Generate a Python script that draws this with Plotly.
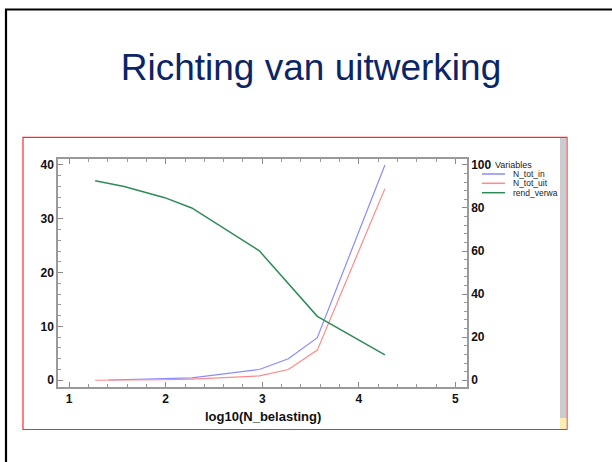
import plotly.graph_objects as go

# log10 of the load and the three monitored variables
log_load = [1.27, 1.41, 1.57, 1.99, 2.27, 2.97, 3.27, 3.57, 4.27]
n_tot_in = [None, 0.05, 0.1, 0.25, 0.45, 2.0, 4.0, 7.9, 40.0]
n_tot_uit = [0.0, 0.0, 0.02, 0.1, 0.2, 0.8, 2.0, 5.6, 35.6]
rend_verwad = [92.7, 91.4, 90.0, 84.8, 80.0, 60.1, 45.0, 29.7, 11.8]

x_ticks = [1, 2, 3, 4, 5]
y_ticks = [0, 10, 20, 30, 40]
y2_ticks = [0, 20, 40, 60, 80, 100]

W, H = 612, 462
L, R, T, B = 58, 467, 159, 387  # plot area in pixels

fig = go.Figure()
fig.add_trace(go.Scatter(x=log_load, y=n_tot_in, mode="lines", name="N_tot_in",
                         line=dict(color="#8a8aff", width=1.2), connectgaps=False))
fig.add_trace(go.Scatter(x=log_load, y=n_tot_uit, mode="lines", name="N_tot_uit",
                         line=dict(color="#ff8a8a", width=1.2)))
fig.add_trace(go.Scatter(x=log_load, y=rend_verwad, mode="lines", name="rend_verwad",
                         line=dict(color="#2e8b57", width=1.5), yaxis="y2"))

FONT = "Liberation Sans, Arial"
axis_font = dict(family=FONT, size=12, color="#111111", weight="bold")
common = dict(showgrid=False, zeroline=False, showline=True, linecolor="#9a9a9a",
              linewidth=1.5, ticks="inside", tickcolor="#8a8a8a", ticklen=5,
              tickwidth=1, tickfont=axis_font)

fig.update_layout(
    width=W, height=H,
    paper_bgcolor="white", plot_bgcolor="white",
    margin=dict(l=L, r=W - R, t=T, b=H - B, pad=0),
    showlegend=False,
    title=dict(text="Richting van uitwerking", x=311 / W, xanchor="center",
               y=1 - 67 / H, yanchor="middle", yref="container",
               font=dict(family=FONT, size=37, color="#0b2566")),
    xaxis=dict(range=[0.885, 5.12], tickvals=x_ticks, mirror="ticks",
               minor=dict(dtick=0.2, ticks="inside", ticklen=3, tickcolor="#9a9a9a"),
               **common),
    yaxis=dict(range=[-1.25, 41.1], tickvals=y_ticks,
               minor=dict(dtick=2, ticks="inside", ticklen=3, tickcolor="#9a9a9a"),
               **common),
    yaxis2=dict(range=[-3.125, 102.75], tickvals=y2_ticks, overlaying="y", side="right",
                minor=dict(dtick=4, ticks="inside", ticklen=3, tickcolor="#9a9a9a"),
                **common),
)


def px(xp):
    return (xp - L) / (R - L)


def py(yp):
    return (B - yp) / (B - T)


# x-axis title
fig.add_annotation(text="log10(N_belasting)", xref="paper", yref="paper",
                   x=px(263.3), y=py(416), showarrow=False,
                   xanchor="center", yanchor="middle",
                   font=dict(family=FONT, size=13, color="#111111", weight="bold"))

shapes = []
# slide frame
shapes.append(dict(type="line", xref="paper", yref="paper", x0=px(6), x1=px(6),
                   y0=py(9.5), y1=py(470), line=dict(color="black", width=2.2)))
shapes.append(dict(type="line", xref="paper", yref="paper", x0=px(5), x1=px(620),
                   y0=py(9.5), y1=py(9.5), line=dict(color="black", width=2.2)))
# chart frame
shapes.append(dict(type="rect", xref="paper", yref="paper", x0=px(23), x1=px(567),
                   y0=py(429.5), y1=py(137.3), line=dict(color="#ff2a2a", width=1.2)))
# scroll strip on the right
shapes.append(dict(type="rect", xref="paper", yref="paper", x0=px(560), x1=px(566.4),
                   y0=py(428.9), y1=py(137.9), fillcolor="#c9cdd2", line=dict(width=0),
                   layer="above"))
shapes.append(dict(type="rect", xref="paper", yref="paper", x0=px(560), x1=px(566.4),
                   y0=py(428.9), y1=py(418), fillcolor="#fbeeb0", line=dict(width=0),
                   layer="above"))

# legend
legend_rows = [("N_tot_in", "#8a8aff", 174), ("N_tot_uit", "#ff8a8a", 183.3),
               ("rend_verwa", "#2e8b57", 192.7)]
for name, color, yy in legend_rows:
    shapes.append(dict(type="line", xref="paper", yref="paper", x0=px(482), x1=px(505),
                       y0=py(yy), y1=py(yy), line=dict(color=color, width=1.5)))
    fig.add_annotation(text=name, xref="paper", yref="paper", x=px(511), y=py(yy),
                       showarrow=False, xanchor="left", yanchor="middle",
                       font=dict(family=FONT, size=8.5, color="#222222"))
fig.add_annotation(text="Variables", xref="paper", yref="paper", x=px(493), y=py(165),
                   showarrow=False, xanchor="left", yanchor="middle",
                   font=dict(family=FONT, size=9, color="#222222"))

fig.update_layout(shapes=shapes)
fig.write_html("out.html")
